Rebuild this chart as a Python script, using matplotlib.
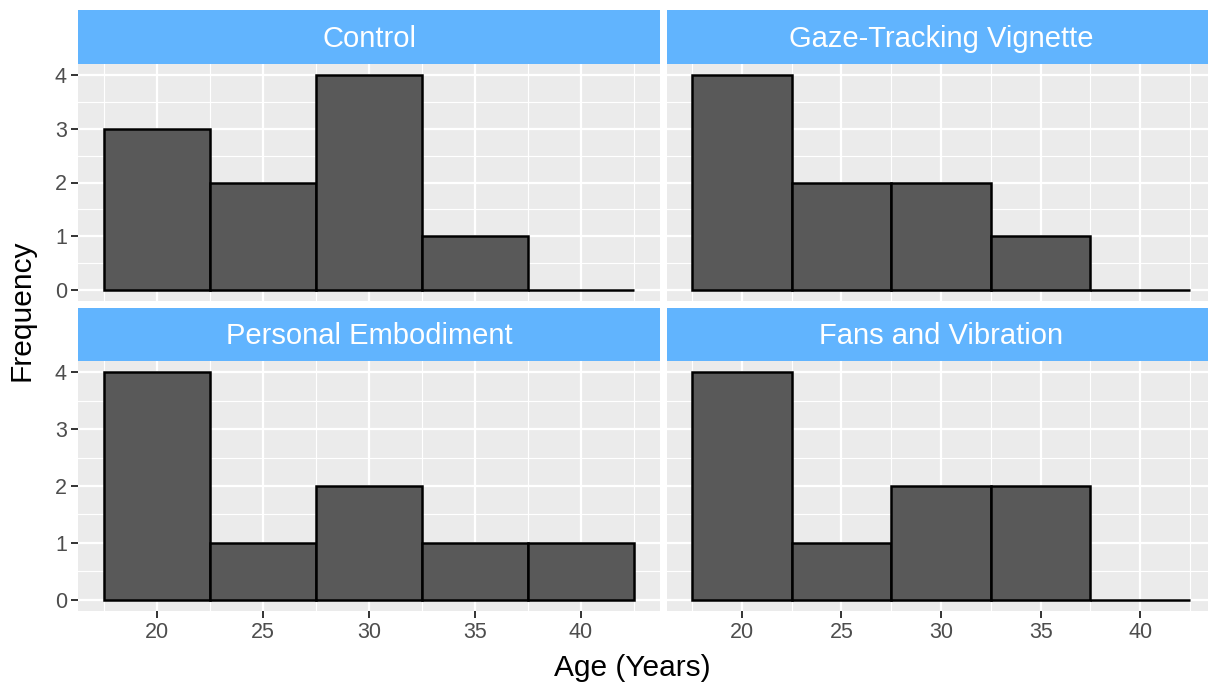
import matplotlib
matplotlib.use("Agg")
import matplotlib.pyplot as plt
import numpy as np

plt.rcParams['font.family'] = ['Liberation Sans', 'DejaVu Sans']

panels = ["Control", "Gaze-Tracking Vignette", "Personal Embodiment", "Fans and Vibration"]
bin_centers = [20, 25, 30, 35, 40]
counts = {
    "Control": [3, 2, 4, 1, 0],
    "Gaze-Tracking Vignette": [4, 2, 2, 1, 0],
    "Personal Embodiment": [4, 1, 2, 1, 1],
    "Fans and Vibration": [4, 1, 2, 2, 0],
}
x_ticks = [20, 25, 30, 35, 40]
y_ticks = [0, 1, 2, 3, 4]
bin_width = 5

W, H = 1208, 683
fig = plt.figure(figsize=(W / 100, H / 100), dpi=100)

def px(x0, y0, x1, y1):
    return [x0 / W, 1 - y1 / H, (x1 - x0) / W, (y1 - y0) / H]

# (panel box, strip box) in pixels: x0, y0, x1, y1
layout = [
    ((78, 64, 660, 301), (78, 10, 660, 64)),
    ((667, 64, 1215, 301), (667, 10, 1215, 64)),
    ((78, 361, 660, 611), (78, 308, 660, 361)),
    ((667, 361, 1215, 611), (667, 308, 1215, 361)),
]

strip_col = "#61B4FE"
for i, name in enumerate(panels):
    pbox, sbox = layout[i]
    ax = fig.add_axes(px(*pbox))
    ax.set_facecolor("#EBEBEB")
    for s in ax.spines.values():
        s.set_visible(False)
    ax.set_xlim(16.25, 43.75)
    ax.set_ylim(-0.2, 4.2)
    ax.set_xticks(x_ticks)
    ax.set_xticks([17.5, 22.5, 27.5, 32.5, 37.5, 42.5], minor=True)
    ax.set_yticks(y_ticks)
    ax.set_yticks([0.5, 1.5, 2.5, 3.5], minor=True)
    ax.grid(which="major", color="white", linewidth=1.6)
    ax.grid(which="minor", color="white", linewidth=0.8)
    ax.set_axisbelow(True)
    ax.bar(bin_centers, counts[name], width=bin_width, color="#595959",
           edgecolor="black", linewidth=1.8, zorder=3)
    ax.tick_params(which="minor", length=0)
    ax.tick_params(which="major", color="#333333", width=1.4, length=5,
                   labelcolor="#4D4D4D", labelsize=15.5, pad=3)
    if i % 2 == 1:
        ax.tick_params(axis="y", left=False, labelleft=False)
    if i < 2:
        ax.tick_params(axis="x", bottom=False, labelbottom=False)
    sax = fig.add_axes(px(*sbox))
    sax.set_facecolor(strip_col)
    sax.set_xticks([]); sax.set_yticks([])
    for s in sax.spines.values():
        s.set_visible(False)
    sax.text(0.5, 0.47, name, transform=sax.transAxes, ha="center", va="center",
             color="white", fontsize=21)

fig.text(632 / W, 1 - 668 / H, "Age (Years)", ha="center", va="center",
         fontsize=21.5, color="black")
fig.text(22 / W, 1 - 310 / H, "Frequency", ha="center", va="center",
         rotation=90, fontsize=21.5, color="black")

fig.savefig("out.png", dpi=100, facecolor="white")
